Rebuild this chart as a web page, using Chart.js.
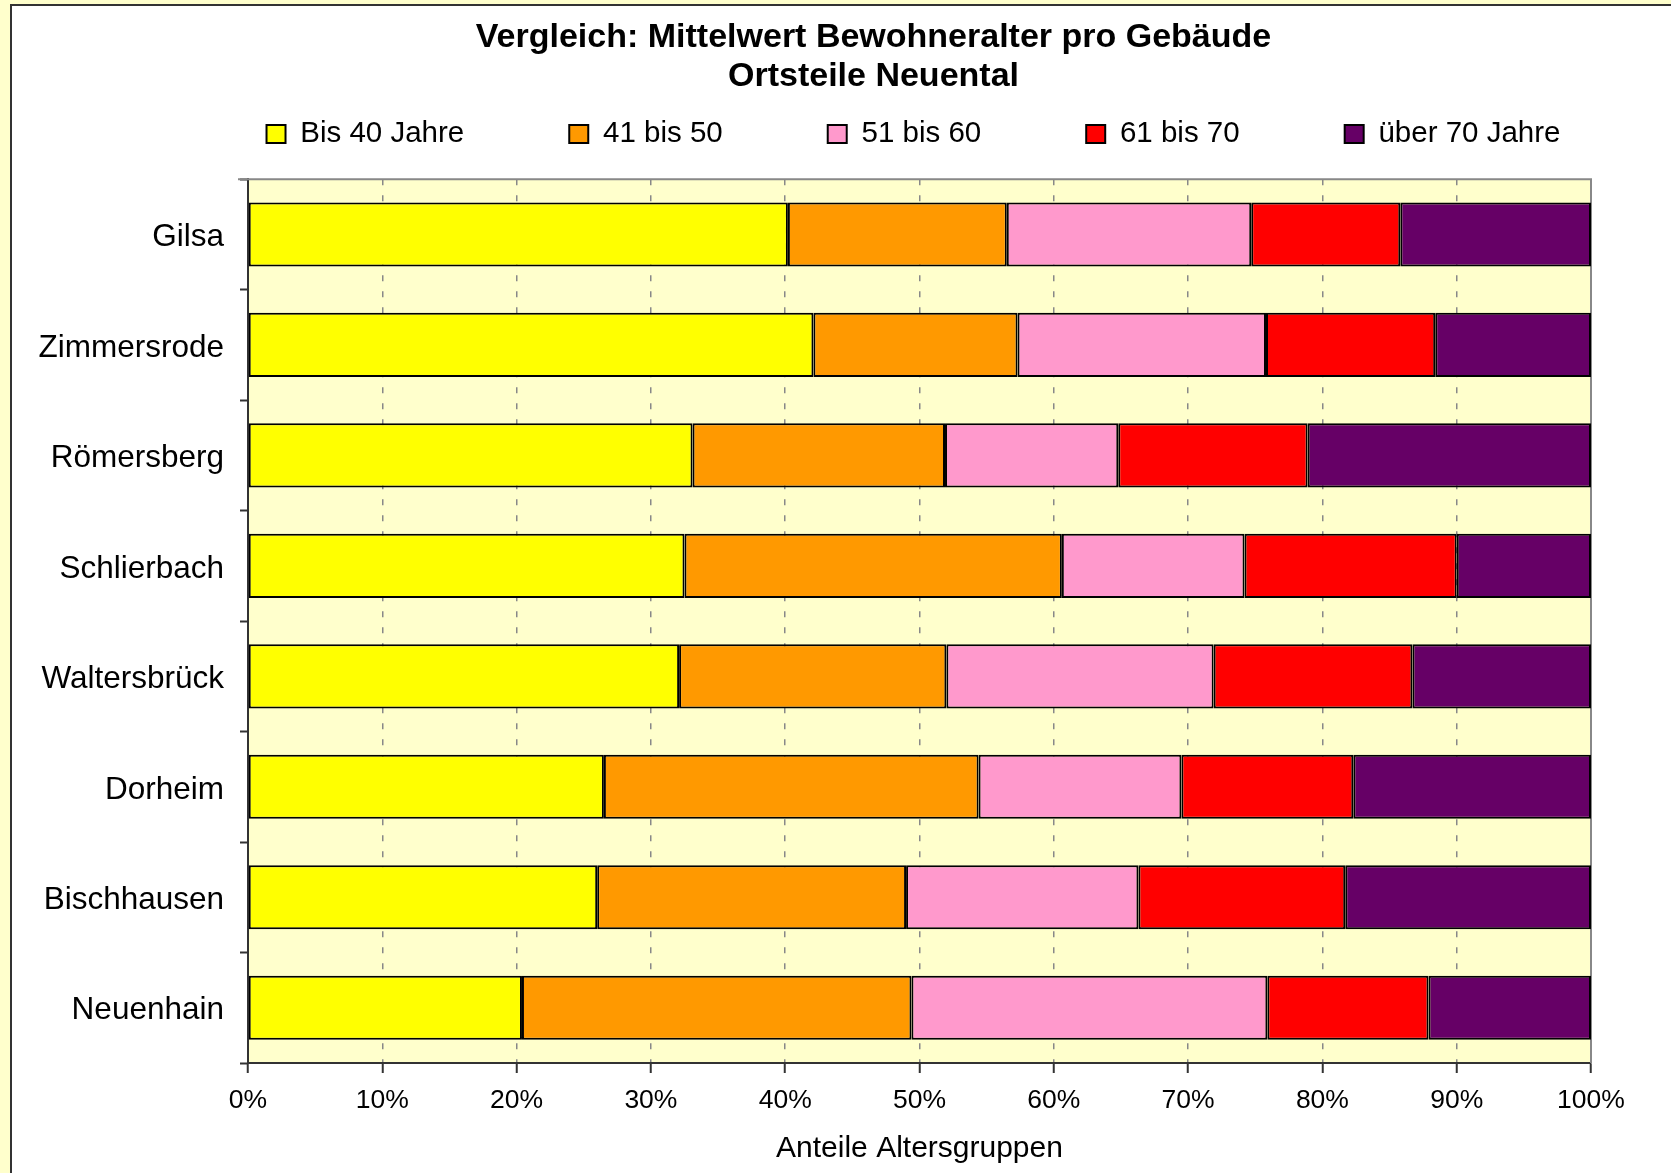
<!DOCTYPE html>
<html>
<head>
<meta charset="utf-8">
<script src="https://cdn.jsdelivr.net/npm/chart.js@4"></script>
<style>
  html, body { margin: 0; padding: 0; background: #FFFFCC; overflow: hidden; width: 1671px; height: 1173px; }
  #frame { position: absolute; left: 10px; top: 4px; width: 1700px; height: 1250px; border: 2px solid #333; background: #FFFFFF; }
  #c { position: absolute; left: 0; top: 0; }
</style>
</head>
<body>
<div id="frame"></div>
<canvas id="c" width="1671" height="1173"></canvas>
<script>
// ---- data ----
const categories = ["Gilsa", "Zimmersrode", "Römersberg", "Schlierbach", "Waltersbrück", "Dorheim", "Bischhausen", "Neuenhain"];
const seriesNames = ["Bis 40 Jahre", "41 bis 50", "51 bis 60", "61 bis 70", "über 70 Jahre"];
const bis40    = [40.2, 42.1, 33.1, 32.5, 32.1, 26.5, 26.0, 20.4];
const j41bis50 = [16.3, 15.2, 18.8, 28.1, 19.9, 27.9, 23.0, 29.0];
const j51bis60 = [18.2, 18.5, 12.9, 13.6, 19.9, 15.1, 17.3, 26.5];
const j61bis70 = [11.1, 12.6, 14.1, 15.8, 14.8, 12.8, 15.4, 12.0];
const ueber70  = [14.2, 11.6, 21.1, 10.0, 13.3, 17.7, 18.3, 12.1];
const xTickValues = [0, 10, 20, 30, 40, 50, 60, 70, 80, 90, 100];
const titleLines = ["Vergleich: Mittelwert Bewohneralter pro Gebäude", "Ortsteile Neuental"];
const xAxisTitle = "Anteile Altersgruppen";

const seriesValues = [bis40, j41bis50, j51bis60, j61bis70, ueber70];
const seriesColors = ["#FFFF00", "#FF9900", "#FF99CC", "#FF0000", "#660066"];

const FONT = "'Liberation Sans', Arial, sans-serif";
const LEGEND_Y = 134;
const LEGEND_DX = 118;
const LEGEND_H = 83;
const TITLE_DX = 78;

const plotBg = {
  id: 'plotBg',
  beforeDraw(chart) {
    const {ctx, chartArea: a} = chart;
    ctx.save();
    ctx.fillStyle = '#FFFFCC';
    ctx.fillRect(a.left, a.top, a.right - a.left, a.bottom - a.top);
    ctx.restore();
  },
  beforeDatasetsDraw(chart) {
    const {ctx, chartArea: a} = chart;
    ctx.save();
    ctx.strokeStyle = '#888888';
    ctx.lineWidth = 2;
    ctx.beginPath();
    ctx.moveTo(a.left - 10, a.top);
    ctx.lineTo(a.right, a.top);
    ctx.lineTo(a.right, a.bottom);
    ctx.stroke();
    ctx.restore();
  }
};

const placeBoxes = {
  id: 'placeBoxes',
  afterInit(chart) {
    const lg = chart.legend;
    if (lg && !lg._patched) {
      lg._patched = true;
      const origFit = lg.fit.bind(lg);
      lg.fit = function () { origFit(); this.height = LEGEND_H; };
      const origDraw = lg.draw.bind(lg);
      lg.draw = function () {
        const t = this.top, l = this.left, r = this.right;
        const lab = this.options.labels;
        const fs = lab.font.size;
        const ih = Math.max(fs, lab.boxHeight || fs);
        this.top = LEGEND_Y - lab.padding - ih / 2;
        this.left = l + LEGEND_DX;
        this.right = r + LEGEND_DX;
        origDraw();
        this.top = t; this.left = l; this.right = r;
      };
    }
    const tb = chart.titleBlock;
    if (tb && !tb._patched) {
      tb._patched = true;
      const origDraw = tb.draw.bind(tb);
      tb.draw = function () {
        const l = this.left, r = this.right;
        this.left = l + TITLE_DX; this.right = r + TITLE_DX;
        origDraw();
        this.left = l; this.right = r;
      };
    }
  }
};

new Chart(document.getElementById('c'), {
  type: 'bar',
  data: {
    labels: categories,
    datasets: seriesNames.map((name, i) => ({
      label: name,
      data: seriesValues[i],
      backgroundColor: seriesColors[i],
      borderColor: '#000000',
      borderWidth: 2,
      borderSkipped: false,
      categoryPercentage: 1.0,
      barPercentage: 0.58
    }))
  },
  options: {
    indexAxis: 'y',
    responsive: false,
    animation: false,
    devicePixelRatio: 1,
    layout: { padding: { left: 0, right: 80, top: 0, bottom: 0 } },
    plugins: {
      tooltip: { enabled: false },
      title: {
        display: true,
        text: titleLines,
        color: '#000000',
        font: { family: FONT, size: 34, weight: 'bold', lineHeight: 1.15 },
        padding: { top: 18, bottom: 0 }
      },
      legend: {
        display: true,
        position: 'top',
        labels: {
          color: '#000000',
          font: { family: FONT, size: 29.5 },
          boxWidth: 19,
          boxHeight: 18,
          padding: 105
        }
      }
    },
    scales: {
      x: {
        stacked: true,
        min: 0,
        max: 100,
        afterBuildTicks(scale) { scale.ticks = xTickValues.map(v => ({ value: v })); },
        afterFit(scale) { scale.height = 110; },
        ticks: {
          color: '#000000',
          font: { family: FONT, size: 26.5 },
          padding: 12,
          maxRotation: 0,
          callback: v => v + '%'
        },
        grid: {
          color: '#888888',
          lineWidth: 1.5,
          drawTicks: true,
          tickLength: 10,
          tickColor: '#333333',
          tickWidth: 2,
          tickBorderDash: []
        },
        border: { display: true, color: '#333333', width: 2, dash: [6, 10] },
        title: {
          display: true,
          text: xAxisTitle,
          color: '#000000',
          font: { family: FONT, size: 30 },
          padding: { top: 0, bottom: 6 }
        }
      },
      y: {
        stacked: true,
        afterFit(scale) { scale.width = 248; },
        ticks: {
          color: '#000000',
          font: { family: FONT, size: 31.5 },
          padding: 16,
          labelOffset: 3
        },
        grid: {
          offset: true,
          drawOnChartArea: false,
          drawTicks: true,
          tickLength: 8,
          tickColor: '#333333',
          tickWidth: 2
        },
        border: { display: true, color: '#333333', width: 2 }
      }
    }
  },
  plugins: [plotBg, placeBoxes]
});
</script>
</body>
</html>
